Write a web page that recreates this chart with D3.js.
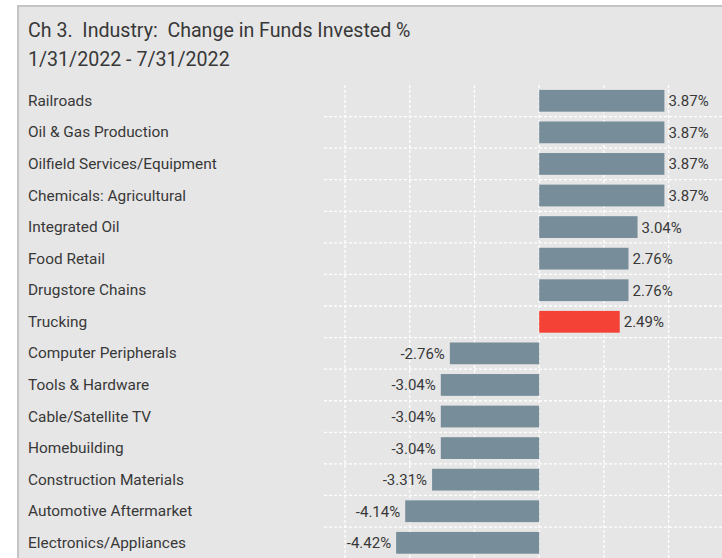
<!DOCTYPE html>
<html lang="en">
  <head>
    <meta charset="UTF-8">
    <title>Change in Funds Invested %</title>
    <style>
      body { margin: 0; background: #fff; }
      text { font-family: Roboto, "Noto Sans", sans-serif; fill: #383838; }
      .title { font-size: 19.6px; white-space: pre; }
      .cat { font-size: 15.4px; }
      .val { font-size: 15px; }
      .grid line { stroke: #fff; stroke-width: 1.3; stroke-dasharray: 3 2; }
    </style>
    <script src="https://d3js.org/d3.v7.min.js"></script>
  </head>
  <body>
    <script>
      const categories = [
        "Railroads", "Oil & Gas Production", "Oilfield Services/Equipment",
        "Chemicals: Agricultural", "Integrated Oil", "Food Retail",
        "Drugstore Chains", "Trucking", "Computer Peripherals",
        "Tools & Hardware", "Cable/Satellite TV", "Homebuilding",
        "Construction Materials", "Automotive Aftermarket", "Electronics/Appliances"
      ];
      const values = [3.87, 3.87, 3.87, 3.87, 3.04, 2.76, 2.76, 2.49,
        -2.76, -3.04, -3.04, -3.04, -3.31, -4.14, -4.42];
      const highlight = "Trucking";
      const gridTicks = [-6, -4, -2, 0, 2, 4];
      const titleLines = ["Ch 3.  Industry:  Change in Funds Invested %", "1/31/2022 - 7/31/2022"];

      const W = 722, H = 558;
      const svg = d3.select("body").append("svg")
        .attr("width", W).attr("height", H);

      // panel with top/left border, cut off at right and bottom
      svg.append("rect")
        .attr("x", 17).attr("y", 5).attr("width", W - 17).attr("height", H - 5)
        .attr("fill", "#e6e6e6");
      svg.append("rect").attr("x", 17).attr("y", 5).attr("width", W - 17).attr("height", 2)
        .attr("fill", "#c4c4c4");
      svg.append("rect").attr("x", 17).attr("y", 5).attr("width", 2).attr("height", H - 5)
        .attr("fill", "#c4c4c4");

      svg.selectAll(".title")
        .data(titleLines)
        .enter().append("text")
        .attr("class", "title")
        .attr("x", 28)
        .attr("y", (d, i) => 37 + i * 28.5)
        .text(d => d);

      const plotTop = 85, plotBottom = 558.6, plotLeft = 324;
      const x = d3.scaleLinear().domain([-6.65, 5.65]).range([plotLeft, W]);
      const y = d3.scaleBand().domain(categories).range([plotTop, plotBottom])
        .paddingInner(0.31).paddingOuter(0.155);
      const gap = (y.step() - y.bandwidth()) / 2;

      const grid = svg.append("g").attr("class", "grid");
      grid.selectAll(".v")
        .data(gridTicks)
        .enter().append("line")
        .attr("x1", d => x(d)).attr("x2", d => x(d))
        .attr("y1", plotTop).attr("y2", H);
      grid.selectAll(".h")
        .data(categories.slice(1))
        .enter().append("line")
        .attr("x1", plotLeft).attr("x2", W)
        .attr("y1", d => y(d) - gap)
        .attr("y2", d => y(d) - gap);

      const data = categories.map((c, i) => ({ cat: c, v: values[i] }));

      svg.selectAll(".cat")
        .data(data)
        .enter().append("text")
        .attr("class", "cat")
        .attr("x", 28)
        .attr("y", d => y(d.cat) + y.bandwidth() / 2 + 5)
        .text(d => d.cat);

      svg.selectAll(".bar")
        .data(data)
        .enter().append("rect")
        .attr("class", "bar")
        .attr("x", d => x(Math.min(0, d.v)))
        .attr("y", d => y(d.cat))
        .attr("width", d => Math.abs(x(d.v) - x(0)))
        .attr("height", y.bandwidth())
        .attr("fill", d => d.cat === highlight ? "#f44336" : "#778d99");

      svg.selectAll(".val")
        .data(data)
        .enter().append("text")
        .attr("class", "val")
        .attr("x", d => d.v >= 0 ? x(d.v) + 4 : x(d.v) - 5)
        .attr("y", d => y(d.cat) + y.bandwidth() / 2 + 5.5)
        .attr("text-anchor", d => d.v >= 0 ? "start" : "end")
        .text(d => d.v.toFixed(2) + "%");
    </script>
  </body>
</html>
